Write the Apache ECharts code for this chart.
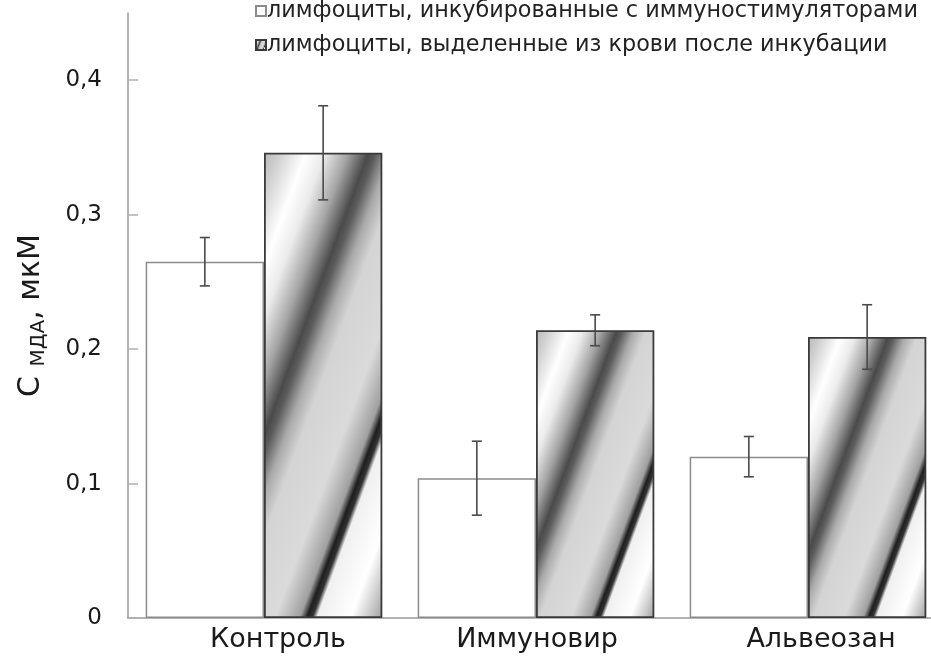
<!DOCTYPE html>
<html>
<head>
<meta charset="utf-8">
<script src="https://cdn.jsdelivr.net/npm/echarts@6/dist/echarts.min.js"></script>
<style>
html,body{margin:0;padding:0;background:#fff;}
#chart{width:931px;height:657px;}
</style>
</head>
<body>
<div id="chart"></div>
<script>
// ---- data ----
const categories = ['Контроль', 'Иммуновир', 'Альвеозан'];
const seriesNames = ['лимфоциты, инкубированные с иммуностимуляторами', 'лимфоциты, выделенные из крови после инкубации'];
const incubatedValues = [0.265, 0.104, 0.120];
const incubatedErrors = [0.018, 0.0275, 0.015];
const isolatedValues = [0.346, 0.214, 0.209];
const isolatedErrors = [0.035, 0.0115, 0.024];
const yTickValues = [0, 0.1, 0.2, 0.3, 0.4];
const yMax = 0.45;

// ---- layout / style ----
const GRID = {left: 128, top: 13, width: 816, height: 605, outerBoundsMode: 'none'};
const CAT_GAP = 0.13;
const FONT = 'DejaVu Sans';
const labelShift = [14, 1, 13];
const stripeStops = [
  [0.00, '#b8b8b8'], [0.05, '#cecece'], [0.145, '#ffffff'], [0.21, '#ebebeb'],
  [0.29, '#a4a4a4'], [0.36, '#4a4a4a'], [0.385, '#5c5c5c'], [0.435, '#aaaaaa'],
  [0.49, '#d4d4d4'], [0.63, '#dadada'], [0.715, '#a0a0a0'], [0.74, '#1e1e1e'],
  [0.758, '#333333'], [0.774, '#f0f0f0'], [0.89, '#ffffff'], [1.00, '#a0a0a0']
];
const DIR = [0.938, 0.347];

function stripeGradient(wPx, hPx) {
  const T = DIR[0] * wPx + DIR[1] * hPx;
  return new echarts.graphic.LinearGradient(0, 0, DIR[0] * T / wPx, DIR[1] * T / hPx,
    stripeStops.map(s => ({offset: s[0], color: s[1]})));
}

const bandPx = GRID.width / categories.length;
const barPx = bandPx * (1 - CAT_GAP) / 2;

const isolatedData = isolatedValues.map(v => ({
  value: v,
  itemStyle: {color: stripeGradient(barPx, v / yMax * GRID.height)}
}));

const categoryData = categories.map((c, i) => ({
  value: c,
  textStyle: {padding: [0, 0, 0, labelShift[i] * 2]}
}));

const errorData = [];
incubatedValues.forEach((v, i) => errorData.push([i, v - incubatedErrors[i], v + incubatedErrors[i], 0]));
isolatedValues.forEach((v, i) => errorData.push([i, v - isolatedErrors[i], v + isolatedErrors[i], 1]));

function fmt(v) { return v === 0 ? '0' : v.toFixed(1).replace('.', ','); }

const chart = echarts.init(document.getElementById('chart'), null, {renderer: 'canvas'});
chart.setOption({
  backgroundColor: '#ffffff',
  animation: false,
  textStyle: {fontFamily: FONT},
  legend: {
    orient: 'vertical',
    left: 250, top: -6,
    itemWidth: 10, itemHeight: 10, itemGap: 10,
    icon: 'rect',
    textStyle: {fontFamily: FONT, fontSize: 22.3, color: '#222', padding: [0, 0, 0, -4], lineHeight: 24},
    data: seriesNames
  },
  grid: GRID,
  xAxis: {
    type: 'category',
    data: categoryData,
    axisLine: {lineStyle: {color: '#9a9a9a', width: 1.5}},
    axisTick: {show: false},
    axisLabel: {fontFamily: FONT, fontSize: 27, color: '#1a1a1a', margin: 8}
  },
  yAxis: {
    type: 'value',
    min: 0, max: yMax, interval: 0.1,
    name: '{a|С }{b|МДА}{a|, мкМ}',
    nameLocation: 'middle',
    nameRotate: 90,
    nameGap: 82,
    nameTextStyle: {
      rich: {
        a: {fontFamily: FONT, fontSize: 30, color: '#1a1a1a', verticalAlign: 'bottom'},
        b: {fontFamily: FONT, fontSize: 20, color: '#1a1a1a', verticalAlign: 'bottom', padding: [0, 0, -3, 0]}
      }
    },
    axisLine: {show: true, lineStyle: {color: '#9a9a9a', width: 1.5}},
    axisTick: {show: true, inside: true, length: 10, lineStyle: {color: '#b0b0b0', width: 1.5}, customValues: yTickValues},
    axisLabel: {fontFamily: FONT, fontSize: 23, color: '#1a1a1a', margin: 26, formatter: fmt, customValues: yTickValues},
    splitLine: {show: false}
  },
  series: [
    {
      name: seriesNames[0],
      type: 'bar',
      data: incubatedValues,
      barGap: '0%',
      barCategoryGap: (CAT_GAP * 100) + '%',
      itemStyle: {color: '#ffffff', borderColor: '#8c8c8c', borderWidth: 1.5},
      z: 2
    },
    {
      name: seriesNames[1],
      type: 'bar',
      data: isolatedData,
      barGap: '0%',
      barCategoryGap: (CAT_GAP * 100) + '%',
      itemStyle: {color: stripeGradient(10, 10), borderColor: '#3a3a3a', borderWidth: 1.8},
      z: 3
    },
    {
      type: 'custom',
      z: 5,
      data: errorData,
      encode: {x: 0, y: [1, 2]},
      renderItem: function (params, api) {
        const ci = api.value(0), lo = api.value(1), hi = api.value(2), k = api.value(3);
        const band = api.size([1, 0])[0];
        const bw = band * (1 - CAT_GAP) / 2;
        const cx = api.coord([ci, 0])[0] + (k === 0 ? -bw / 2 : bw / 2);
        const yLo = api.coord([ci, lo])[1];
        const yHi = api.coord([ci, hi])[1];
        const cap = 5;
        const st = {stroke: '#4a4a4a', lineWidth: 1.6};
        return {
          type: 'group',
          children: [
            {type: 'line', shape: {x1: cx, y1: yLo, x2: cx, y2: yHi}, style: st},
            {type: 'line', shape: {x1: cx - cap, y1: yHi, x2: cx + cap, y2: yHi}, style: st},
            {type: 'line', shape: {x1: cx - cap, y1: yLo, x2: cx + cap, y2: yLo}, style: st}
          ]
        };
      }
    }
  ]
});
</script>
</body>
</html>
